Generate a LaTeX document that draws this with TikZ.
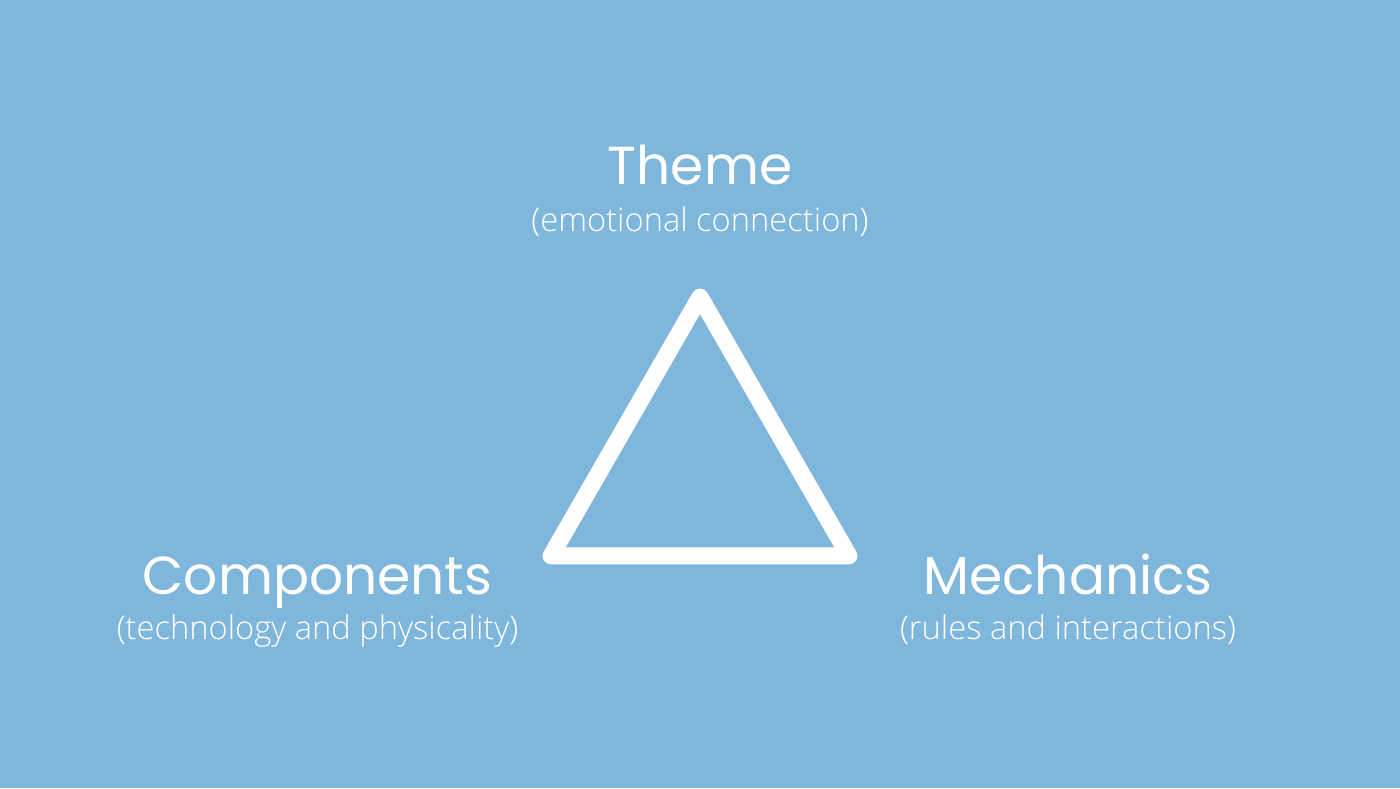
\documentclass[tikz,border=0pt]{standalone}
\usepackage{fontspec}
\IfFontExistsTF{Open Sans Light}{\setmainfont{Open Sans Light}}{\setmainfont{Open Sans}}
\newfontfamily\headfont{Poppins}
\usepackage{tikz}
\definecolor{skyblue}{RGB}{127,182,219}

\begin{document}
\begin{tikzpicture}[x=1cm,y=1cm,
    title/.style={anchor=base,text=white,inner sep=0pt,font=\headfont\fontsize{15.2}{18}\selectfont},
    subtitle/.style={anchor=base,text=white,inner sep=0pt,font=\fontsize{9.3}{11}\selectfont}]
    % Background
    \fill[skyblue] (0,0) rectangle (14,7.88);
    \useasboundingbox (0,0) rectangle (14,7.88);

    % Triangle corners
    \coordinate (apex) at (7,4.91);
    \coordinate (left) at (5.51,2.32);
    \coordinate (right) at (8.49,2.32);
    \draw[white,line width=0.17cm,line join=round] (apex) -- (right) -- (left) -- cycle;

    % Labels
    \node[title]    (theme)    at (7,6.03)    {Theme};
    \node[subtitle] (themesub) at (7,5.56)    {(emotional connection)};
    \node[title]    (comp)     at (3.175,1.93) {Components};
    \node[subtitle] (compsub)  at (3.175,1.48) {(technology and physicality)};
    \node[title]    (mech)     at (10.68,1.93) {Mechanics};
    \node[subtitle] (mechsub)  at (10.68,1.48) {(rules and interactions)};
\end{tikzpicture}
\end{document}
